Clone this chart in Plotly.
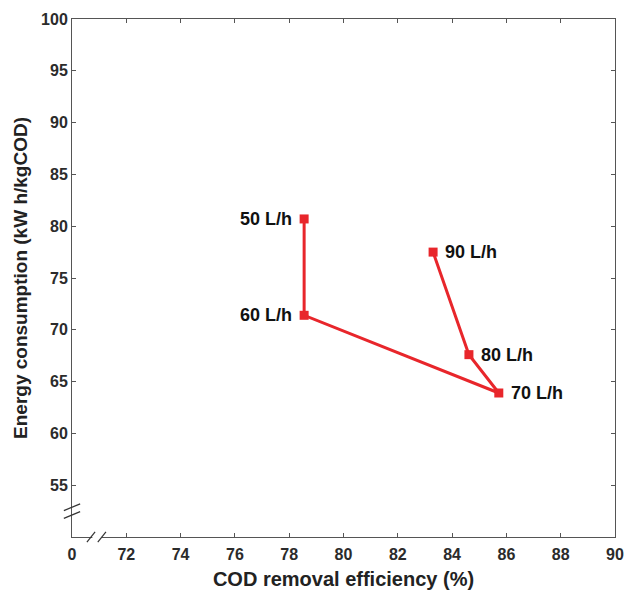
import plotly.graph_objects as go

flow_labels = ["50 L/h", "60 L/h", "70 L/h", "80 L/h", "90 L/h"]
cod_removal = [78.55, 78.55, 85.72, 84.62, 83.3]
energy = [80.7, 71.4, 63.9, 67.6, 77.5]
label_side = ["left", "left", "right", "right", "right"]

x_tickvals = [70, 72, 74, 76, 78, 80, 82, 84, 86, 88, 90]
x_ticktext = ["0", "72", "74", "76", "78", "80", "82", "84", "86", "88", "90"]
y_tickvals = [55, 60, 65, 70, 75, 80, 85, 90, 95, 100]

red = "#e8262b"
axis_col = "#555555"
font_fam = "Liberation Sans, Arial, sans-serif"

fig = go.Figure()
fig.add_trace(go.Scatter(
    x=cod_removal, y=energy, mode="lines+markers",
    line=dict(color=red, width=3),
    marker=dict(symbol="square", size=9, color=red),
    showlegend=False, cliponaxis=False,
))

for xv, yv, t, side in zip(cod_removal, energy, flow_labels, label_side):
    fig.add_annotation(
        x=xv, y=yv, xref="x", yref="y", text="<b>%s</b>" % t, showarrow=False,
        xanchor="right" if side == "left" else "left", yanchor="middle",
        xshift=-10 if side == "left" else 10,
        font=dict(size=18, color="#111111", family=font_fam),
    )

fig.update_layout(
    width=635, height=590,
    margin=dict(l=72, r=20, t=19, b=53),
    plot_bgcolor="white", paper_bgcolor="white",
    font=dict(family=font_fam),
    xaxis=dict(
        range=[70, 90], tickvals=x_tickvals,
        ticktext=["<b>%s</b>" % t for t in x_ticktext],
        ticks="inside", ticklen=4, tickcolor=axis_col, tickwidth=1,
        ticklabelstandoff=3, automargin=False,
        showline=True, linecolor=axis_col, linewidth=1, mirror="ticks",
        showgrid=False, zeroline=False,
        tickfont=dict(size=16, color="#2b2b2b", family=font_fam),
        title=dict(text="<b>COD removal efficiency (%)</b>", standoff=9,
                   font=dict(size=20, color="#222222", family=font_fam)),
    ),
    yaxis=dict(
        range=[50, 100], tickvals=y_tickvals,
        ticktext=["<b>%d</b>" % v for v in y_tickvals],
        ticks="inside", ticklen=4, tickcolor=axis_col, tickwidth=1,
        automargin=False,
        showline=True, linecolor=axis_col, linewidth=1, mirror="ticks",
        showgrid=False, zeroline=False,
        tickfont=dict(size=16, color="#2b2b2b", family=font_fam),
        title=dict(text="<b>Energy consumption (kW h/kgCOD)</b>", standoff=8,
                   font=dict(size=19, color="#222222", family=font_fam)),
    ),
)

# axis break marks
shapes = []
shapes.append(dict(type="line", xref="x", yref="y", x0=70, x1=70, y0=52.15, y1=52.85,
                   line=dict(color="white", width=3)))
for dy in (0.0, 0.75):
    shapes.append(dict(type="line", xref="paper", yref="y", x0=-0.015, x1=0.015,
                       y0=51.8 + dy, y1=52.45 + dy, line=dict(color="#333333", width=1.2)))
shapes.append(dict(type="line", xref="x", yref="paper", x0=70.75, x1=71.1, y0=0, y1=0,
                   line=dict(color="white", width=3)))
for dx in (0.0, 0.4):
    shapes.append(dict(type="line", xref="x", yref="paper", x0=70.55 + dx, x1=70.85 + dx,
                       y0=-0.01, y1=0.01, line=dict(color="#333333", width=1.2)))
fig.update_layout(shapes=shapes)

fig.write_html("out.html")
